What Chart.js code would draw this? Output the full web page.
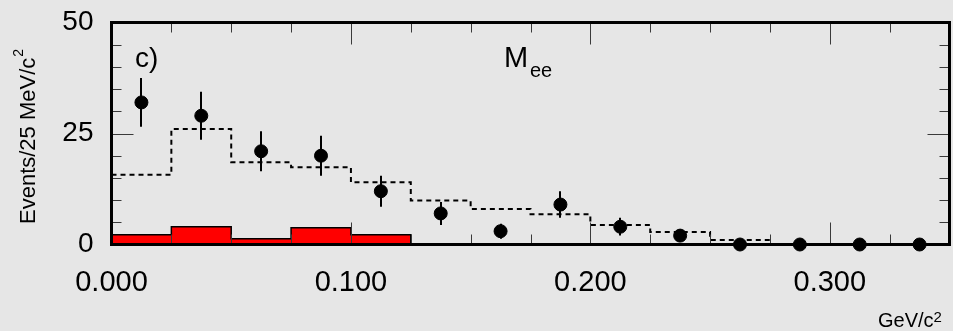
<!DOCTYPE html>
<html>
<head>
<meta charset="utf-8">
<script src="https://cdn.jsdelivr.net/npm/chart.js@4"></script>
<style>
    html, body { margin: 0; padding: 0; background: #e6e6e6; }
    #wrap { position: relative; width: 953px; height: 331px; }
</style>
</head>
<body>
<div id="wrap"><canvas id="meeChart"></canvas></div>
<script>
// bin layout (GeV/c^2), 25 MeV bins
const binEdges = [0, 0.025, 0.05, 0.075, 0.1, 0.125, 0.15, 0.175, 0.2, 0.225, 0.25, 0.275, 0.3, 0.325, 0.35];
const binCenters = [0.0125, 0.0375, 0.0625, 0.0875, 0.1125, 0.1375, 0.1625, 0.1875, 0.2125, 0.2375, 0.2625, 0.2875, 0.3125, 0.3375];

// measured events with errors
const dataCounts = [32, 29, 21, 20, 12, 7, 3, 9, 4, 2, 0, 0, 0, 0];
const dataErrors = [5.5, 5.4, 4.5, 4.5, 3.5, 2.6, 1.7, 3.0, 2.0, 1.4, 0, 0, 0, 0];

// simulation (dashed) and background (red)
const mcCounts = [15.7, 26.0, 18.5, 17.4, 14.0, 9.9, 8.0, 6.8, 4.4, 2.8, 1.0, 0, 0, 0];
const bkgCounts = [2.2, 4.0, 1.3, 3.8, 2.2, 0, 0, 0, 0, 0, 0, 0, 0, 0];

const xTickValues = [0, 0.1, 0.2, 0.3];
const yTickValues = [0, 25, 50];
const xMinorStep = 0.025;
const yMinorStep = 5;

const FONT = '"Liberation Sans", Arial, Helvetica, sans-serif';

function stepPoints(counts) {
    const pts = counts.map((v, i) => ({ x: binEdges[i], y: v }));
    pts.push({ x: binEdges[binEdges.length - 1], y: counts[counts.length - 1] });
    return pts;
}

// keep chart.js from padding the plot for half-labels
function noScalePadding(s) {
    s.paddingTop = 0;
    s.paddingBottom = 0;
    s.paddingLeft = 0;
    s.paddingRight = 0;
}

const frameAndLabels = {
    id: 'frameAndLabels',
    afterDatasetsDraw(chart) {
        const ctx = chart.ctx;
        const xs = chart.scales.x;
        const ys = chart.scales.y;
        ctx.save();
        ctx.strokeStyle = '#000';
        ctx.lineWidth = 2;
        binCenters.forEach((c, i) => {
            if (dataErrors[i] <= 0) return;
            const px = Math.round(xs.getPixelForValue(c));
            ctx.beginPath();
            ctx.moveTo(px, ys.getPixelForValue(dataCounts[i] + dataErrors[i]));
            ctx.lineTo(px, ys.getPixelForValue(dataCounts[i] - dataErrors[i]));
            ctx.stroke();
        });
        ctx.restore();
    },
    afterDraw(chart) {
        const ctx = chart.ctx;
        const a = chart.chartArea;
        const xs = chart.scales.x;
        const ys = chart.scales.y;
        ctx.save();

        // inward ticks on all four sides
        ctx.strokeStyle = '#3a3a3a';
        ctx.lineWidth = 1;
        ctx.beginPath();
        for (let v = xMinorStep; v < xs.max - 1e-9; v += xMinorStep) {
            const major = Math.abs(v / 0.1 - Math.round(v / 0.1)) < 1e-6;
            const len = major ? 22 : 10;
            const px = Math.round(xs.getPixelForValue(v)) + 0.5;
            ctx.moveTo(px, a.top);
            ctx.lineTo(px, a.top + len);
            ctx.moveTo(px, a.bottom);
            ctx.lineTo(px, a.bottom - len);
        }
        for (let v = yMinorStep; v < ys.max; v += yMinorStep) {
            const len = v % 25 === 0 ? 22 : 10;
            const py = Math.round(ys.getPixelForValue(v)) + 0.5;
            ctx.moveTo(a.left, py);
            ctx.lineTo(a.left + len, py);
            ctx.moveTo(a.right, py);
            ctx.lineTo(a.right - len, py);
        }
        ctx.stroke();

        // frame
        ctx.strokeStyle = '#000';
        ctx.lineWidth = 3;
        ctx.strokeRect(a.left, a.top, a.right - a.left, a.bottom - a.top);

        // texts
        ctx.fillStyle = '#000';
        ctx.textBaseline = 'alphabetic';
        ctx.textAlign = 'left';
        ctx.font = '28px ' + FONT;
        ctx.fillText('c)', 135, 67);

        ctx.font = '29px ' + FONT;
        ctx.fillText('M', 504, 67);
        ctx.font = '20px ' + FONT;
        ctx.fillText('ee', 530, 77);

        ctx.font = '20px ' + FONT;
        ctx.fillText('GeV/c', 878, 327);
        const gw = ctx.measureText('GeV/c').width;
        ctx.font = '15px ' + FONT;
        ctx.fillText('2', 878 + gw, 322);

        ctx.translate(35, 224);
        ctx.rotate(-Math.PI / 2);
        ctx.font = '22px ' + FONT;
        ctx.fillText('Events/25 MeV/c', 0, 0);
        const w = ctx.measureText('Events/25 MeV/c').width;
        ctx.font = '14px ' + FONT;
        ctx.fillText('2', w + 1, -12);

        ctx.restore();
    }
};

const ctx = document.getElementById('meeChart').getContext('2d');

new Chart(ctx, {
    type: 'line',
    data: {
        datasets: [
            {
                type: 'scatter',
                label: 'Data',
                data: binCenters.map((c, i) => ({ x: c, y: dataCounts[i] })),
                backgroundColor: '#000',
                borderColor: '#000',
                pointRadius: 6.5,
                pointHoverRadius: 6.5,
                clip: false,
            },
            {
                label: 'MC',
                data: stepPoints(mcCounts),
                stepped: 'before',
                borderColor: '#000',
                borderWidth: 2,
                borderDash: [5, 4],
                pointRadius: 0,
                fill: false,
            },
            {
                label: 'Background',
                data: stepPoints(bkgCounts),
                stepped: 'before',
                borderColor: '#000',
                borderWidth: 1.5,
                backgroundColor: '#ff0000',
                pointRadius: 0,
                fill: 'origin',
            }
        ]
    },
    options: {
        responsive: true,
        maintainAspectRatio: false,
        animation: false,
        layout: { autoPadding: false, padding: { top: 22.5, right: 3.5, left: 0, bottom: 0 } },
        plugins: {
            legend: { display: false },
            tooltip: { enabled: false },
        },
        scales: {
            x: {
                type: 'linear',
                min: 0,
                max: 0.35,
                grid: { display: false },
                border: { display: false },
                afterBuildTicks: s => { s.ticks = xTickValues.map(v => ({ value: v })); },
                afterFit: s => { s.height = 86.5; noScalePadding(s); },
                ticks: {
                    padding: 13,
                    maxRotation: 0,
                    color: '#000',
                    font: { family: FONT, size: 29 },
                    callback: v => Number(v).toFixed(3),
                },
            },
            y: {
                min: 0,
                max: 50,
                grid: { display: false },
                border: { display: false },
                afterBuildTicks: s => { s.ticks = yTickValues.map(v => ({ value: v })); },
                afterFit: s => { s.width = 111.5; noScalePadding(s); },
                ticks: {
                    padding: 10,
                    color: '#000',
                    font: { family: FONT, size: 28 },
                },
            }
        }
    },
    plugins: [frameAndLabels]
});
</script>
</body>
</html>
